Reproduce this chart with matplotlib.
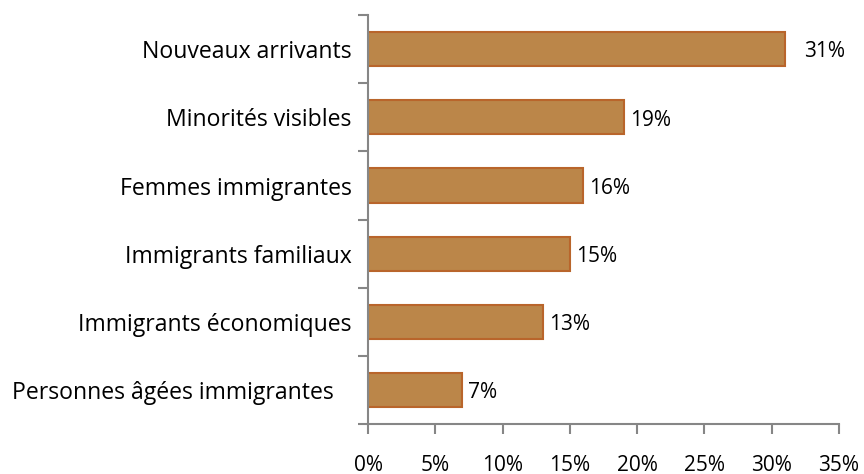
import matplotlib.pyplot as plt
import numpy as np
from matplotlib.ticker import FuncFormatter

categories = ['Nouveaux arrivants', 'Minorités visibles', 'Femmes immigrantes',
              'Immigrants familiaux', 'Immigrants économiques', 'Personnes âgées immigrantes   ']
values = [31, 19, 16, 15, 13, 7]
value_labels = ['31%', '19%', '16%', '15%', '13%', '7%']
x_ticks = [0, 5, 10, 15, 20, 25, 30, 35]

plt.rcParams['font.family'] = ['Open Sans', 'DejaVu Sans']

fig = plt.figure(figsize=(8.64, 4.74), dpi=100)
ax = fig.add_axes([0.426, 0.1055, 0.545, 0.8625])

n = len(categories)
y = np.arange(n)[::-1]  # first category on top
ax.barh(y, values, height=0.5, color='#BB8649', edgecolor='#B9652B', linewidth=1.5)

for yi, v, lab in zip(y, values, value_labels):
    off = 1.4 if v == max(values) else 0.45
    ax.text(v + off, yi - 0.04, lab, va='center', ha='left', fontsize=15, color='black')

ax.set_xlim(0, 35)
ax.set_ylim(-0.5, n - 0.5)
ax.set_xticks(x_ticks)
ax.xaxis.set_major_formatter(FuncFormatter(lambda v, p: f'{v:.0f}%'))

ax.set_yticks(y)
ax.set_yticklabels(categories)
ax.set_yticks(np.arange(n + 1) - 0.5, minor=True)

for s in ['top', 'right']:
    ax.spines[s].set_visible(False)
for s in ['left', 'bottom']:
    ax.spines[s].set_color('#868686')
    ax.spines[s].set_linewidth(1.5)

ax.tick_params(axis='y', which='major', length=0, pad=12, labelsize=16.6)
ax.tick_params(axis='y', which='minor', length=7, width=1.5, color='#868686')
ax.tick_params(axis='x', length=7, width=1.5, color='#868686', pad=15, labelsize=15)

fig.savefig('out.png', dpi=100)
